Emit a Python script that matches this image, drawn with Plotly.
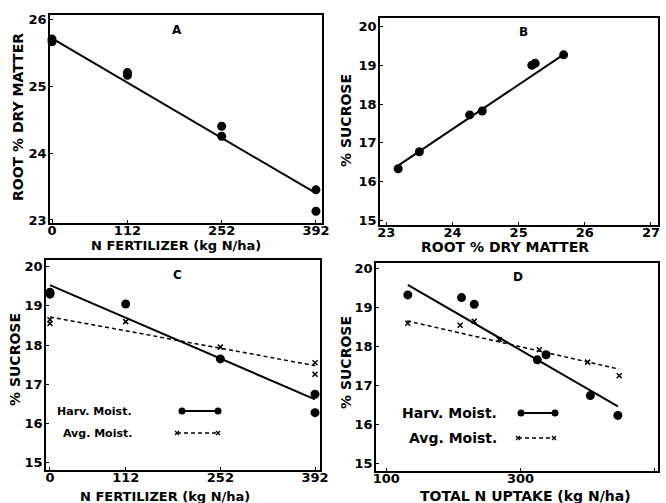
import plotly.graph_objects as go

W, H = 666, 503

# ---------------- data ----------------
# Panel A: root % dry matter vs N fertilizer
a_x = [0, 0, 112, 112, 252, 252, 392, 392]
a_y = [25.70, 25.66, 25.20, 25.16, 24.40, 24.25, 23.45, 23.13]
a_fit_x = [0, 392]
a_fit_y = [25.71, 23.40]

# Panel B: % sucrose vs root % dry matter
b_x = [23.18, 23.50, 24.26, 24.45, 25.20, 25.25, 25.68]
b_y = [16.33, 16.77, 17.72, 17.82, 19.00, 19.05, 19.27]
b_fit_x = [23.15, 25.70]
b_fit_y = [16.38, 19.30]

# Panel C: % sucrose vs N fertilizer
c_harv_x = [0, 0, 112, 252, 392, 392]
c_harv_y = [19.35, 19.30, 19.05, 17.65, 16.75, 16.28]
c_avg_x = [0, 0, 112, 252, 392, 392]
c_avg_y = [18.65, 18.55, 18.60, 17.95, 17.55, 17.26]
c_harv_fit_x = [0, 392]
c_harv_fit_y = [19.53, 16.62]
c_avg_fit_x = [0, 392]
c_avg_fit_y = [18.72, 17.48]

# Panel D: % sucrose vs total N uptake
d_harv_x = [132, 212, 231, 325, 338, 404, 445]
d_harv_y = [19.33, 19.26, 19.09, 17.66, 17.79, 16.74, 16.23]
d_avg_x = [132, 210, 231, 268, 328, 400, 447]
d_avg_y = [18.60, 18.55, 18.65, 18.18, 17.92, 17.60, 17.25]
d_harv_fit_x = [132, 445]
d_harv_fit_y = [19.59, 16.46]
d_avg_fit_x = [131, 447]
d_avg_fit_y = [18.66, 17.42]

# tick labels
nfert_ticks = [0, 112, 252, 392]
a_yticks = [23, 24, 25, 26]
b_xticks = [23, 24, 25, 26, 27]
sucrose_ticks = [15, 16, 17, 18, 19, 20]
d_xticks = [100, 300, 500]

legend_labels = ["Harv. Moist.", "Avg. Moist."]

# ---------------- figure ----------------
FONT = "DejaVu Sans"
BLACK = "black"

def px(x):
    return x / W

def py(y):
    return 1 - y / H

fig = go.Figure()

def dots(x, y, xa, ya, size=9):
    fig.add_trace(go.Scatter(x=x, y=y, mode="markers", xaxis=xa, yaxis=ya,
                             marker=dict(color=BLACK, size=size, symbol="circle"),
                             cliponaxis=False, showlegend=False))

def crosses(x, y, xa, ya):
    fig.add_trace(go.Scatter(x=x, y=y, mode="markers", xaxis=xa, yaxis=ya,
                             marker=dict(color=BLACK, size=5, symbol="x-thin",
                                         line=dict(color=BLACK, width=1.5)),
                             cliponaxis=False, showlegend=False))

def fit(x, y, xa, ya, dash="solid", width=2):
    fig.add_trace(go.Scatter(x=x, y=y, mode="lines", xaxis=xa, yaxis=ya,
                             line=dict(color=BLACK, width=width, dash=dash),
                             cliponaxis=False, showlegend=False))

# A
fit(a_fit_x, a_fit_y, "x", "y")
dots(a_x, a_y, "x", "y")
# B
fit(b_fit_x, b_fit_y, "x2", "y2")
dots(b_x, b_y, "x2", "y2")
# C
fit(c_harv_fit_x, c_harv_fit_y, "x3", "y3")
fit(c_avg_fit_x, c_avg_fit_y, "x3", "y3", dash="4px,3px", width=1.5)
dots(c_harv_x, c_harv_y, "x3", "y3")
crosses(c_avg_x, c_avg_y, "x3", "y3")
# D
fit(d_harv_fit_x, d_harv_fit_y, "x4", "y4")
fit(d_avg_fit_x, d_avg_fit_y, "x4", "y4", dash="4px,3px", width=1.5)
dots(d_harv_x, d_harv_y, "x4", "y4")
crosses(d_avg_x, d_avg_y, "x4", "y4")

tickfont = dict(family=FONT, size=13, color=BLACK, weight="bold")

def axis(domain, rng, tickvals, standoff):
    return dict(domain=domain, range=rng, tickvals=tickvals,
                ticktext=[str(v) for v in tickvals],
                showline=True, mirror=True, linecolor=BLACK, linewidth=1.5,
                showgrid=False, zeroline=False, ticks="inside", ticklen=3,
                tickwidth=1.2, tickcolor=BLACK, tickfont=tickfont,
                automargin=False, ticklabelstandoff=standoff)

XS, YS = -5, -1
layout = dict(
    width=W, height=H, autosize=False,
    margin=dict(l=0, r=0, t=0, b=0),
    paper_bgcolor="white", plot_bgcolor="white",
    showlegend=False, hovermode=False,
    xaxis=axis([px(50), px(322)], [-3, 401], nfert_ticks, XS),
    yaxis=axis([py(223), py(15)], [22.955, 26.06], a_yticks, YS),
    xaxis2=axis([px(380), px(658)], [22.905, 27.106], b_xticks, XS),
    yaxis2=axis([py(225), py(18)], [14.88, 20.22], sucrose_ticks, YS),
    xaxis3=axis([px(46), px(320)], [-5.9, 399.4], nfert_ticks, XS),
    yaxis3=axis([py(470), py(260)], [14.82, 20.17], sucrose_ticks, YS),
    xaxis4=axis([px(376), px(658)], [84.6, 504.8], d_xticks, XS),
    yaxis4=axis([py(471), py(263)], [14.8, 20.15], sucrose_ticks, YS),
)
layout["yaxis"]["anchor"] = "x"
layout["xaxis"]["anchor"] = "y"
layout["xaxis2"]["anchor"] = "y2"
layout["yaxis2"]["anchor"] = "x2"
layout["xaxis3"]["anchor"] = "y3"
layout["yaxis3"]["anchor"] = "x3"
layout["xaxis4"]["anchor"] = "y4"
layout["yaxis4"]["anchor"] = "x4"
fig.update_layout(**layout)

annots = []

def text(t, x, y, size=12, angle=0, xanchor="center"):
    annots.append(dict(text=t, x=px(x), y=py(y), xref="paper", yref="paper",
                       showarrow=False, textangle=angle, xanchor=xanchor,
                       yanchor="middle",
                       font=dict(family=FONT, size=size, color=BLACK, weight="bold")))

# panel letters
text("A", 177, 30, 12)
text("B", 523, 32, 12)
text("C", 177, 275, 12)
text("D", 518, 277, 12)

# axis titles
text("N FERTILIZER (kg N/ha)", 176, 245, 13)
text("ROOT % DRY MATTER", 505, 247, 14)
text("N FERTILIZER (kg N/ha)", 165, 496, 13)
text("TOTAL N UPTAKE (kg N/ha)", 525, 496, 14)
text("ROOT % DRY MATTER", 18, 117, 14, angle=-90)
text("% SUCROSE", 346, 120, 14, angle=-90)
text("% SUCROSE", 15, 360, 14, angle=-90)
text("% SUCROSE", 346, 362, 14, angle=-90)

# legends (text)
text(legend_labels[0], 134, 411, 11, xanchor="right")
text(legend_labels[1], 134, 433, 11, xanchor="right")
text(legend_labels[0], 499, 413, 14, xanchor="right")
text(legend_labels[1], 499, 438, 14, xanchor="right")

fig.update_layout(annotations=annots)

# legend keys as shapes (paper pixel positions)
shapes = []

def key_solid(x0, x1, y):
    shapes.append(dict(type="line", xref="paper", yref="paper",
                       x0=px(x0), x1=px(x1), y0=py(y), y1=py(y),
                       line=dict(color=BLACK, width=2)))
    for xc in (x0, x1):
        shapes.append(dict(type="circle", xref="paper", yref="paper",
                           x0=px(xc - 3.5), x1=px(xc + 3.5),
                           y0=py(y + 3.5), y1=py(y - 3.5),
                           fillcolor=BLACK, line=dict(color=BLACK, width=0)))

def key_dash(x0, x1, y):
    shapes.append(dict(type="line", xref="paper", yref="paper",
                       x0=px(x0), x1=px(x1), y0=py(y), y1=py(y),
                       line=dict(color=BLACK, width=1.5, dash="4px,3px")))
    for xc in (x0, x1):
        for dx in (-2, 2):
            shapes.append(dict(type="line", xref="paper", yref="paper",
                               x0=px(xc - dx), x1=px(xc + dx),
                               y0=py(y - 2), y1=py(y + 2),
                               line=dict(color=BLACK, width=1.2)))

key_solid(182, 218, 411)
key_dash(177, 218, 433)
key_solid(521, 555, 413)
key_dash(518, 554, 438)

fig.update_layout(shapes=shapes)

# remove the browser's default page margin so the figure sits at (0, 0)
fig.write_html("out.html", config={"displayModeBar": False},
               post_script="document.body.style.margin='0px';")
